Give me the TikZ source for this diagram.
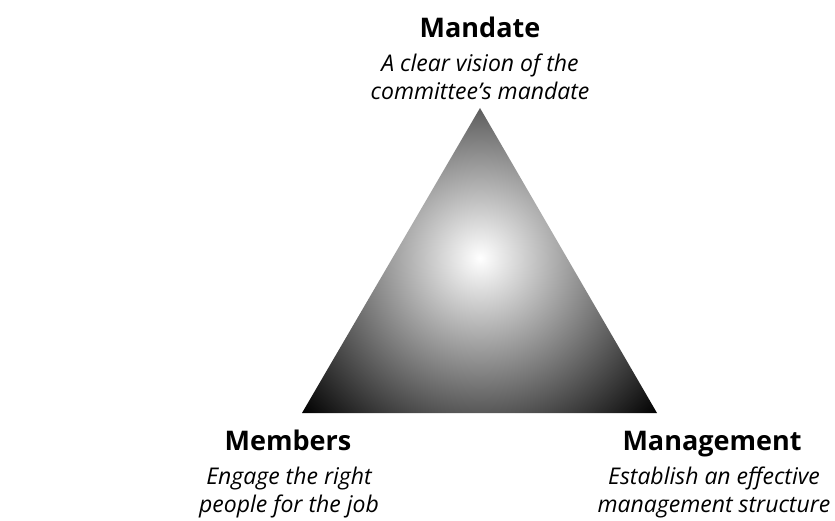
\documentclass[tikz,border=0pt]{standalone}
\usepackage{fontspec}
\setmainfont{Open Sans}
\begin{document}
\begin{tikzpicture}[x=1pt,y=1pt,
  title/.style={font=\fontsize{27}{31}\selectfont\bfseries, inner sep=0pt, anchor=base},
  desc/.style={font=\fontsize{23}{28}\selectfont\itshape, align=center, inner sep=0pt, anchor=base}]
  \useasboundingbox (0,0) rectangle (835,520);
  % triangle corners
  \coordinate (apex) at (480,412);
  \coordinate (bl) at (302,107);
  \coordinate (br) at (657,107);
  % radial gradient, bright in the middle, dark towards the corners
  \begin{scope}
    \clip (apex) -- (bl) -- (br) -- cycle;
    \shade[inner color=white, outer color=black] (480,262) circle (236);
  \end{scope}
  % labels (desc nodes sit on the baseline of their last line)
  \node[title] (mandate) at (480,482) {Mandate};
  \node[desc] (mandatedesc) at (480,420) {A clear vision of the\\committee’s mandate};
  \node[title] (members) at (288,70) {Members};
  \node[desc] (membersdesc) at (289,8) {Engage the right\\people for the job};
  \node[title] (management) at (712,70) {Management};
  \node[desc] (managementdesc) at (714,8) {Establish an effective\\management structure};
\end{tikzpicture}
\end{document}
